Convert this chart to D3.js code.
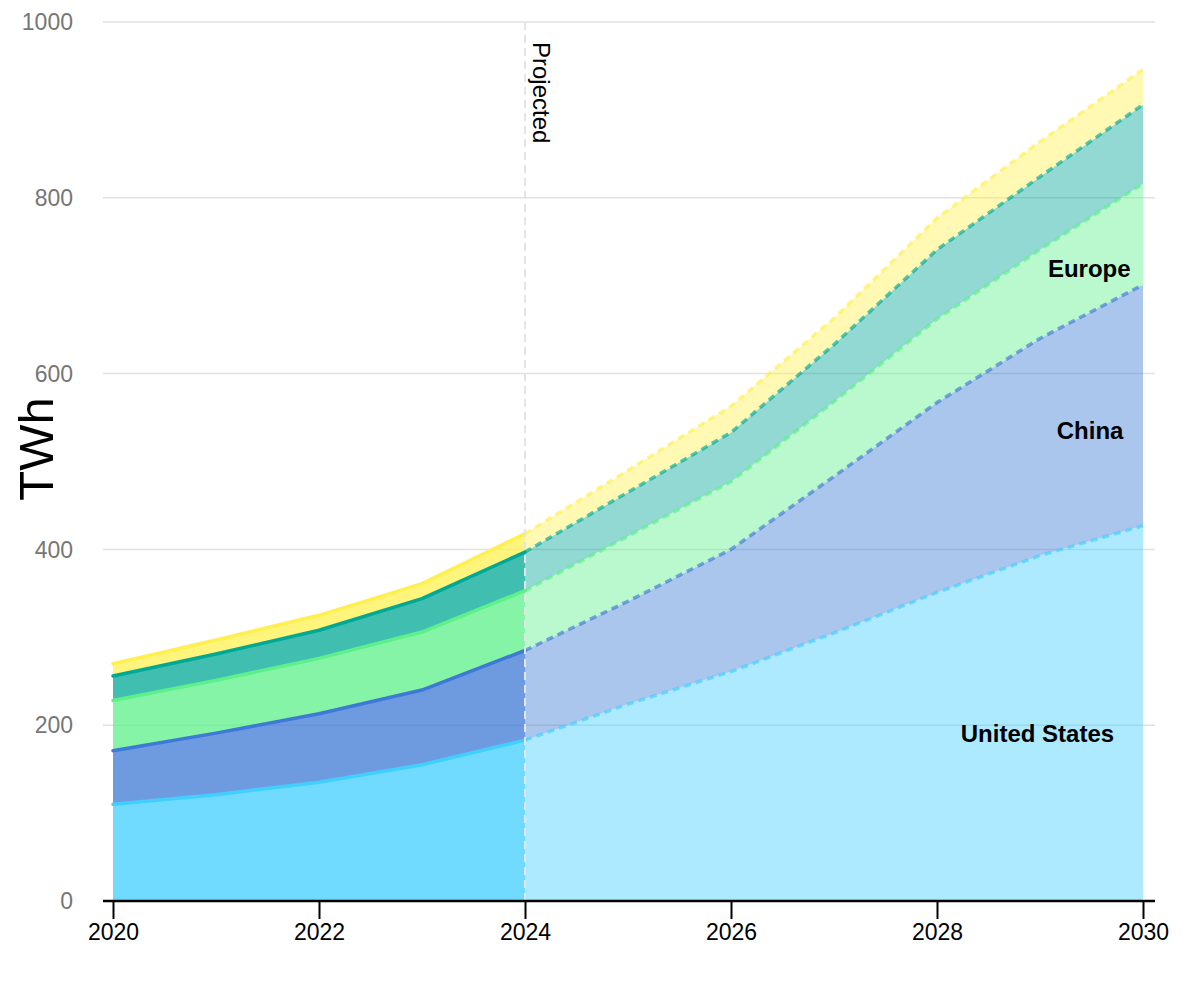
<!DOCTYPE html>
<html lang="en">
  <head>
    <meta charset="UTF-8" />
    <title>Data centre electricity demand</title>
    <style>
      body { margin: 0; background: #fff; }
      svg text { font-family: "Liberation Sans", Arial, sans-serif; }
    </style>
  </head>
  <body>
    <div id="chart"></div>

    <script src="https://cdn.jsdelivr.net/npm/d3@7"></script>
    <script>

      // values (TWh per region, stacked bottom to top)
      var years = [2020, 2021, 2022, 2023, 2024, 2025, 2026, 2027, 2028, 2029, 2030];
      var unitedStates = [110, 121, 135, 155, 183, 224, 261, 305, 351, 393, 427];
      var china = [61, 70, 78, 85, 102, 117, 139, 178, 216, 247, 274];
      var europe = [57, 60, 63, 66, 68, 74, 77, 85, 95, 101, 115];
      var otherAsia = [28, 30, 32, 38, 44, 50, 56, 65, 79, 83, 90];
      var restOfWorld = [14, 16, 17, 17, 21, 25, 30, 30, 36, 40, 40];

      var seriesNames = ["United States", "China", "Europe", "Other Asia", "Rest of world"];
      var projectedFrom = 2024;
      var xTicks = [2020, 2022, 2024, 2026, 2028, 2030];
      var yTicks = [0, 200, 400, 600, 800, 1000];

      var colors = ["#40cfff", "#3d7ad6", "#5ef08a", "#00a896", "#fff050"];

      // labels shown inside the bands: [series index, right edge year, TWh]
      var labels = [
        [0, 2029.72, 191],
        [1, 2029.81, 535],
        [2, 2029.88, 719]
      ];

      var rows = years.map(function(y, i) {
        return {
          year: y,
          "United States": unitedStates[i],
          "China": china[i],
          "Europe": europe[i],
          "Other Asia": otherAsia[i],
          "Rest of world": restOfWorld[i]
        };
      });

      var w = 1200,
          h = 1000;

      var svg = d3.select("#chart").append("svg")
        .attr("width", w)
        .attr("height", h);

      var xScale = d3.scaleLinear()
                     .domain([2020, 2030])
                     .range([113, 1143]);
      var yScale = d3.scaleLinear()
                     .domain([0, 1000])
                     .range([901, 22]);

      // gridlines
      svg.append("g")
         .selectAll("line")
         .data(yTicks.filter(function(d) { return d > 0; }))
         .enter()
         .append("line")
         .attr("x1", 103)
         .attr("x2", 1155)
         .attr("y1", function(d) { return yScale(d); })
         .attr("y2", function(d) { return yScale(d); })
         .attr("stroke", "#e2e2e2")
         .attr("stroke-width", 1.5);

      // y tick labels
      svg.append("g")
         .selectAll("text")
         .data(yTicks)
         .enter()
         .append("text")
         .attr("x", 73)
         .attr("y", function(d) { return yScale(d); })
         .attr("dy", "0.36em")
         .attr("text-anchor", "end")
         .attr("fill", "#767676")
         .style("font-size", "23px")
         .text(function(d) { return d; });

      var stacked = d3.stack().keys(seriesNames)(rows);

      var area = d3.area()
        .x(function(d) { return xScale(d.data.year); })
        .y0(function(d) { return yScale(d[0]); })
        .y1(function(d) { return yScale(d[1]); });

      var line = d3.line()
        .x(function(d) { return xScale(d.data.year); })
        .y(function(d) { return yScale(d[1]); });

      var past = stacked.map(function(s) {
        return s.filter(function(d) { return d.data.year <= projectedFrom; });
      });
      var future = stacked.map(function(s) {
        return s.filter(function(d) { return d.data.year >= projectedFrom; });
      });

      var g = svg.append("g");

      g.selectAll(".area-past")
       .data(past)
       .enter()
       .append("path")
       .attr("class", "area-past")
       .attr("d", area)
       .attr("fill", function(d, i) { return colors[i]; })
       .attr("fill-opacity", 0.75);

      g.selectAll(".area-future")
       .data(future)
       .enter()
       .append("path")
       .attr("class", "area-future")
       .attr("d", area)
       .attr("fill", function(d, i) { return colors[i]; })
       .attr("fill-opacity", 0.43);

      g.selectAll(".line-past")
       .data(past)
       .enter()
       .append("path")
       .attr("class", "line-past")
       .attr("d", line)
       .attr("fill", "none")
       .attr("stroke", function(d, i) { return colors[i]; })
       .attr("stroke-width", 3.5)
       .attr("stroke-linejoin", "round")
       .attr("stroke-linecap", "round");

      g.selectAll(".line-future")
       .data(future)
       .enter()
       .append("path")
       .attr("class", "line-future")
       .attr("d", line)
       .attr("fill", "none")
       .attr("stroke", function(d, i) { return colors[i]; })
       .attr("stroke-opacity", 0.65)
       .attr("stroke-width", 3.5)
       .attr("stroke-linejoin", "round")
       .attr("stroke-dasharray", "7,5");

      // projected marker
      svg.append("line")
         .attr("x1", xScale(projectedFrom))
         .attr("x2", xScale(projectedFrom))
         .attr("y1", yScale(1000))
         .attr("y2", yScale(0))
         .attr("stroke", "#e4e4e4")
         .attr("stroke-width", 2)
         .attr("stroke-dasharray", "8,5");

      svg.append("text")
         .attr("transform", "translate(" + (xScale(projectedFrom) + 8) + ",42)rotate(90)")
         .style("font-size", "24px")
         .attr("fill", "#000")
         .text("Projected");

      // x axis
      var xAxis = d3.axisBottom(xScale)
                    .tickValues(xTicks)
                    .tickFormat(d3.format("d"))
                    .tickSize(18)
                    .tickSizeOuter(0);
      var ax = svg.append("g")
         .attr("class", "x-axis")
         .attr("transform", "translate(0," + yScale(0) + ")")
         .call(xAxis);
      ax.select(".domain").remove();
      ax.selectAll(".tick line").attr("stroke", "#000").attr("stroke-width", 2);
      ax.selectAll(".tick text")
        .attr("y", 39)
        .attr("dy", "0")
        .attr("fill", "#000")
        .style("font-family", "'Liberation Sans', Arial, sans-serif")
        .style("font-size", "23px");
      svg.append("line")
         .attr("x1", 103)
         .attr("x2", 1155)
         .attr("y1", yScale(0))
         .attr("y2", yScale(0))
         .attr("stroke", "#000")
         .attr("stroke-width", 2.5);

      // band labels
      svg.append("g")
         .selectAll("text")
         .data(labels)
         .enter()
         .append("text")
         .attr("x", function(d) { return xScale(d[1]); })
         .attr("y", function(d) { return yScale(d[2]); })
         .attr("dy", "0.35em")
         .attr("text-anchor", "end")
         .attr("font-weight", "bold")
         .style("font-size", "24px")
         .text(function(d) { return seriesNames[d[0]]; });

      // y axis title
      svg.append("text")
         .attr("transform", "translate(53,449)rotate(-90)")
         .attr("text-anchor", "middle")
         .style("font-size", "49px")
         .attr("fill", "#000")
         .text("TWh");

    </script>
  </body>
</html>
